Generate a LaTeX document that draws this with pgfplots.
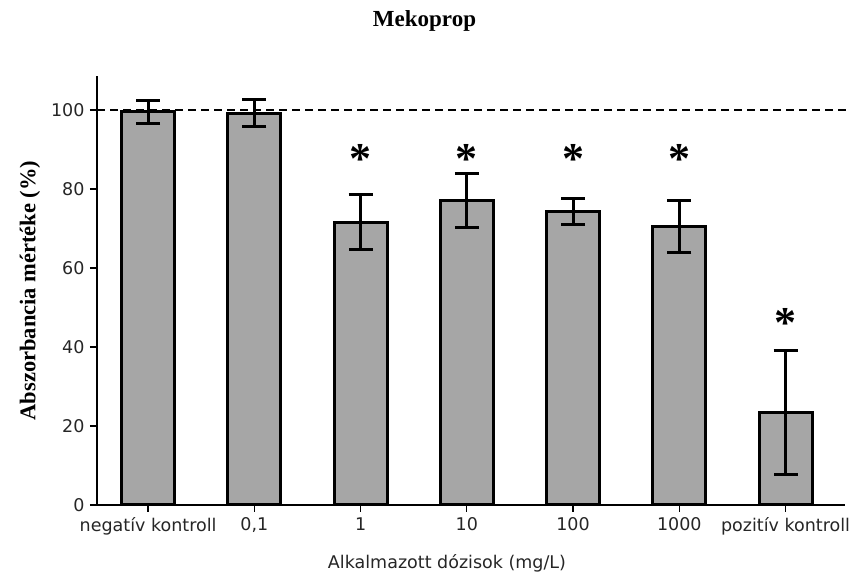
\documentclass[border=0pt]{standalone}
\usepackage{pgfplots}
\pgfplotsset{compat=1.18}
\usepackage{fontspec}
\setmainfont{Liberation Serif}
\newfontfamily\labelfont{DejaVu Sans}

\pgfplotstableread{
x  y     err
0  99.6  2.9
1  99.2  3.5
2  71.6  6.9
3  77.0  6.8
4  74.2  3.3
5  70.4  6.6
6  23.3  15.7
}\absdata

% significance markers (position of the asterisk)
\pgfplotstableread{
x  y
2  88.6
3  88.6
4  88.6
5  88.6
6  47.0
}\sigdata

\begin{document}
\begin{tikzpicture}
\useasboundingbox (0pt,0pt) rectangle (849pt,581pt);
\node[font=\bfseries\fontsize{23}{23}\selectfont] at (424.5pt,560pt) {Mekoprop};
\begin{axis}[
  at={(97pt,76pt)}, anchor=south west,
  scale only axis, width=748pt, height=429pt,
  xmin=-0.481, xmax=6.56, ymin=0, ymax=108.6,
  clip=false,
  axis lines*=left,
  axis line style={line width=1.2pt, black},
  xtick={0,...,6},
  xticklabels={negatív kontroll,{0,1},1,10,100,1000,pozitív kontroll},
  ytick={0,20,...,100},
  tick align=outside, major tick length=7pt,
  tick style={black, line width=1.2pt},
  /pgf/number format/assume math mode=true,
  tick label style={font=\labelfont\fontsize{17.5}{17.5}\selectfont, text=black!85},
  xticklabel style={yshift=-2pt},
  yticklabel style={xshift=-2pt},
  xlabel={Alkalmazott dózisok (mg/L)},
  ylabel={Abszorbancia mértéke (\%)},
  every axis x label/.style={at={(axis description cs:0.5,0)}, xshift=-24pt, yshift=-58pt, anchor=center, font=\labelfont\fontsize{17.5}{17.5}\selectfont, text=black!85},
  every axis y label/.style={at={(axis description cs:0,0.5)}, xshift=-67pt, rotate=90, anchor=center, font=\bfseries\fontsize{22.5}{22.5}\selectfont},
]
\addplot[black, line width=1.3pt, dash pattern=on 8pt off 5pt, forget plot]
  coordinates {(-0.481,100) (6.6,100)};
\addplot[ybar, bar width=53pt, fill=black!35, draw=black, line width=3pt,
  error bars/.cd, y dir=both, y explicit,
  error bar style={line width=3pt, black},
  error mark options={rotate=90, mark size=12pt, line width=3pt, black}]
  table[x=x, y=y, y error=err] {\absdata};
\addplot[draw=none, mark=none,
  nodes near coords={*},
  every node near coord/.append style={anchor=base, yshift=-18pt, inner sep=0pt,
    font=\bfseries\fontsize{44}{44}\selectfont}]
  table[x=x, y=y] {\sigdata};
\end{axis}
\end{tikzpicture}
\end{document}
